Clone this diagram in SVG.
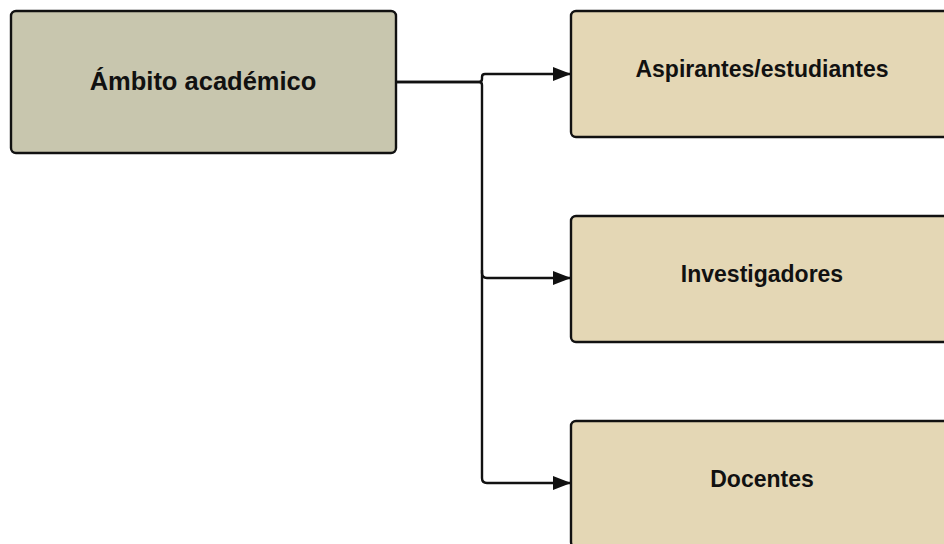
<svg xmlns="http://www.w3.org/2000/svg" width="944" height="544" viewBox="0 0 944 544">
  <style>
    .box { stroke: #111; stroke-width: 2.4; }
    .root { fill: #c8c6ae; }
    .leaf { fill: #e4d7b5; }
    .label { font-family: "Liberation Sans", Arial, sans-serif; font-weight: bold; fill: #111; text-anchor: middle; }
    .wire { fill: none; stroke: #111; stroke-width: 2.4; marker-end: url(#arrow); }
  </style>
  <defs>
    <marker id="arrow" viewBox="0 0 18 14" refX="18" refY="7" markerWidth="18" markerHeight="14" markerUnits="userSpaceOnUse" orient="auto">
      <path d="M0,0 L18,7 L0,14 Z" fill="#111"/>
    </marker>
  </defs>

  <rect width="944" height="544" fill="#ffffff"/>

  <g id="connectors">
    <path class="wire" d="M396,82 H479 Q482,82 482,79 V77 Q482,74 485,74 H571"/>
    <path class="wire" d="M396,82 H479 Q482,82 482,85 V273 Q482,278 487,278 H571"/>
    <path class="wire" d="M482,270 V478 Q482,483 487,483 H571"/>
  </g>

  <g id="node-ambito">
    <rect class="box root" x="11" y="11" width="385" height="142" rx="5"/>
    <text class="label" x="203" y="90" font-size="25.5">Ámbito académico</text>
  </g>

  <g id="node-aspirantes">
    <rect class="box leaf" x="571" y="11" width="384" height="126" rx="5"/>
    <text class="label" x="762" y="77" font-size="23">Aspirantes/estudiantes</text>
  </g>

  <g id="node-investigadores">
    <rect class="box leaf" x="571" y="216" width="384" height="126" rx="5"/>
    <text class="label" x="762" y="282" font-size="23">Investigadores</text>
  </g>

  <g id="node-docentes">
    <rect class="box leaf" x="571" y="421" width="384" height="126" rx="5"/>
    <text class="label" x="762" y="487" font-size="23">Docentes</text>
  </g>
</svg>
